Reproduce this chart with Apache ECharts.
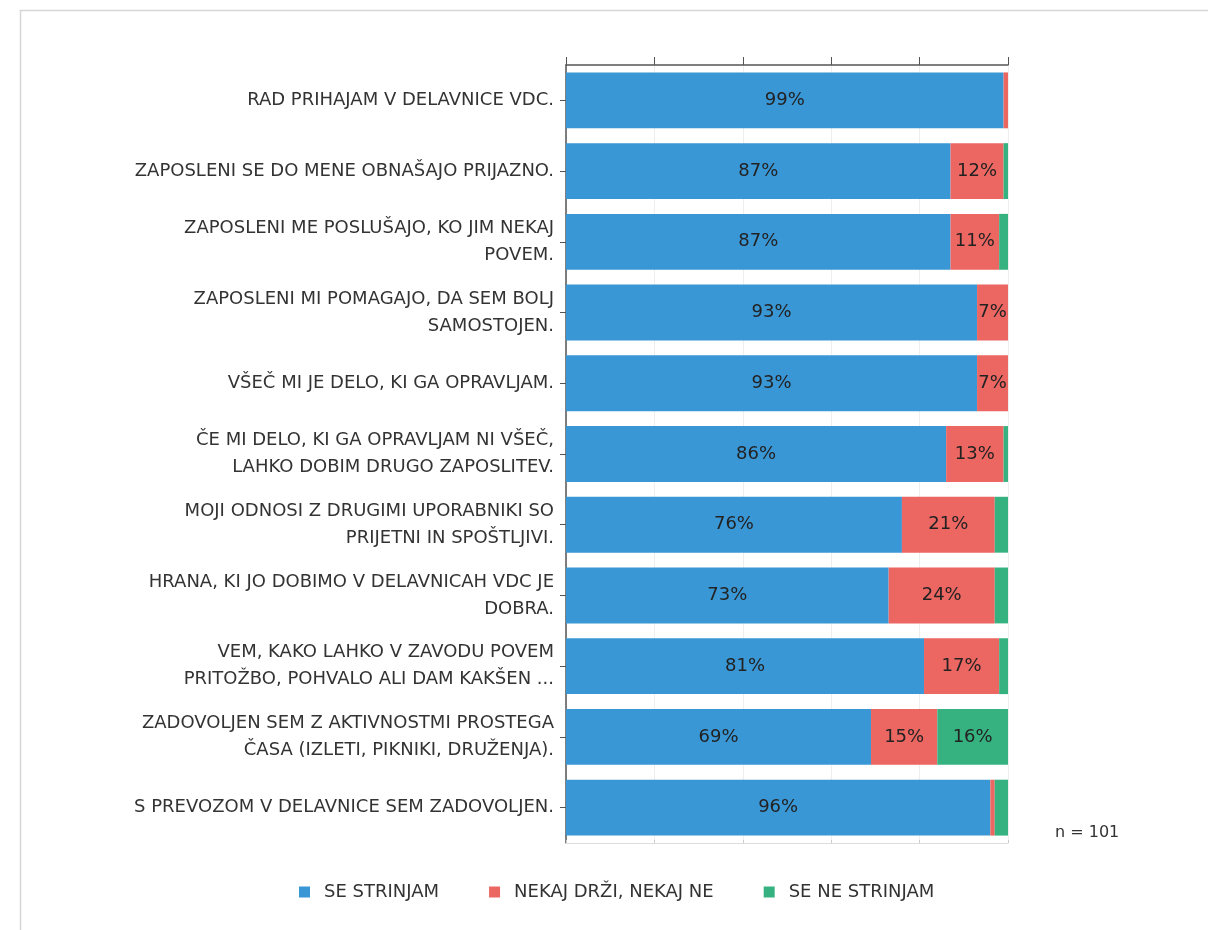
<!DOCTYPE html>
<html>
<head>
<meta charset="utf-8">
<script src="https://cdn.jsdelivr.net/npm/echarts@6/dist/echarts.min.js"></script>
<style>
  html, body { margin: 0; padding: 0; background: #fff; }
  #chart { width: 1208px; height: 930px; }
</style>
</head>
<body>
<div id="chart"></div>
<script>
// Categories (top to bottom)
const categories = [
    'RAD PRIHAJAM V DELAVNICE VDC.',
    'ZAPOSLENI SE DO MENE OBNAŠAJO PRIJAZNO.',
    'ZAPOSLENI ME POSLUŠAJO, KO JIM NEKAJ\nPOVEM.',
    'ZAPOSLENI MI POMAGAJO, DA SEM BOLJ\nSAMOSTOJEN.',
    'VŠEČ MI JE DELO, KI GA OPRAVLJAM.',
    'ČE MI DELO, KI GA OPRAVLJAM NI VŠEČ,\nLAHKO DOBIM DRUGO ZAPOSLITEV.',
    'MOJI ODNOSI Z DRUGIMI UPORABNIKI SO\nPRIJETNI IN SPOŠTLJIVI.',
    'HRANA, KI JO DOBIMO V DELAVNICAH VDC JE\nDOBRA.',
    'VEM, KAKO LAHKO V ZAVODU POVEM\nPRITOŽBO, POHVALO ALI DAM KAKŠEN ...',
    'ZADOVOLJEN SEM Z AKTIVNOSTMI PROSTEGA\nČASA (IZLETI, PIKNIKI, DRUŽENJA).',
    'S PREVOZOM V DELAVNICE SEM ZADOVOLJEN.'
]

// Series values (%)
const agree = [99, 87, 87, 93, 93, 86, 76, 73, 81, 69, 96]
const partly = [1, 12, 11, 7, 7, 13, 21, 24, 17, 15, 1]
const disagree = [0, 1, 2, 0, 0, 1, 3, 3, 2, 16, 3]

const seriesNames = ['SE STRINJAM', 'NEKAJ DRŽI, NEKAJ NE', 'SE NE STRINJAM']
const colors = ['#3a97d6', '#ec6662', '#36b281']

const FONT = 'DejaVu Sans, Liberation Sans, sans-serif'

const chart = echarts.init(document.getElementById('chart'))

function makeSeries(name, data, color) {
    return {
        name: name,
        type: 'bar',
        stack: 'total',
        data: data,
        barCategoryGap: '21%',
        itemStyle: { color: color },
        label: {
            show: true,
            position: 'inside',
            color: '#222',
            fontSize: 18,
            fontFamily: FONT,
            formatter: p => (p.value >= 5 ? p.value + '%' : '')
        }
    }
}

const option = {
    backgroundColor: '#fff',
    animation: false,
    grid: {
        left: 566,
        right: 200,
        top: 65,
        bottom: 87
    },
    legend: {
        data: seriesNames,
        left: 294,
        top: 878,
        itemWidth: 11,
        itemHeight: 11,
        itemGap: 50,
        icon: 'rect',
        textStyle: { color: '#333', fontSize: 18, fontFamily: FONT, padding: [0, 0, 0, 9] }
    },
    xAxis: [
        {
            type: 'value',
            position: 'top',
            min: 0,
            max: 100,
            interval: 20,
            axisLine: { show: true, lineStyle: { color: '#555', width: 1.5 } },
            axisTick: { show: true, length: 8, lineStyle: { color: '#555' } },
            axisLabel: { show: false },
            splitLine: { show: true, lineStyle: { color: '#eee' } }
        },
        {
            type: 'value',
            position: 'bottom',
            min: 0,
            max: 100,
            interval: 20,
            axisLine: { show: true, lineStyle: { color: '#ddd' } },
            axisTick: { show: true, inside: true, length: 3, lineStyle: { color: '#ccc' } },
            axisLabel: { show: false },
            splitLine: { show: false }
        }
    ],
    yAxis: {
        type: 'category',
        data: categories,
        inverse: true,
        axisLine: { show: true, lineStyle: { color: '#555', width: 1.5 } },
        axisTick: { show: true, alignWithLabel: true, length: 6, lineStyle: { color: '#555' } },
        axisLabel: {
            color: '#333',
            fontSize: 18,
            fontFamily: FONT,
            align: 'right',
            lineHeight: 27,
            margin: 12
        }
    },
    series: [
        makeSeries(seriesNames[0], agree, colors[0]),
        makeSeries(seriesNames[1], partly, colors[1]),
        makeSeries(seriesNames[2], disagree, colors[2])
    ],
    graphic: [
        {
            type: 'rect',
            shape: { x: 20.5, y: 10.5, width: 1300, height: 1000 },
            style: { fill: 'none', stroke: '#d6d6d6', lineWidth: 1.5 },
            silent: true
        },
        {
            type: 'text',
            left: 1055,
            top: 825,
            style: { text: 'n = 101', fill: '#333', fontSize: 16, fontFamily: FONT }
        }
    ]
}

chart.setOption(option)
</script>
</body>
</html>
